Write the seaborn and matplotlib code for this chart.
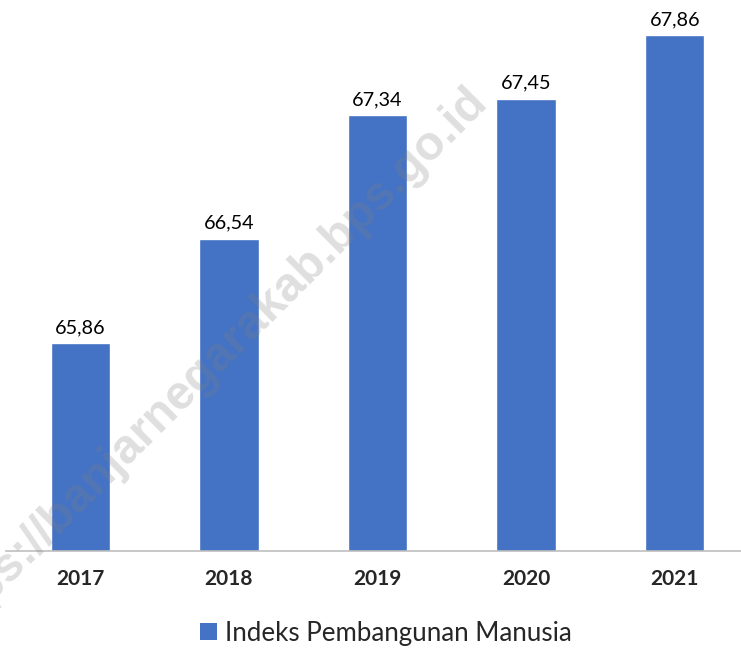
import matplotlib
matplotlib.use("Agg")
import matplotlib.pyplot as plt
from matplotlib.patches import Patch
import pandas as pd
import seaborn as sns

years = ["2017", "2018", "2019", "2020", "2021"]
ipm = [65.86, 66.54, 67.34, 67.45, 67.86]
value_labels = ["65,86", "66,54", "67,34", "67,45", "67,86"]
series_name = "Indeks Pembangunan Manusia"

df = pd.DataFrame({"tahun": years, "ipm": ipm})

sns.set_theme(style="white")
plt.rcParams["font.family"] = ["Lato", "DejaVu Sans"]

fig = plt.figure(figsize=(7.41, 6.49), dpi=100)
ax = fig.add_axes([6 / 741, 98 / 649, 735 / 741, 551 / 649])

sns.barplot(data=df, x="tahun", y="ipm", color="#4472C4", width=0.4,
            saturation=1, ax=ax)

ax.set_xlim(-0.5, 4.446)
ax.set_ylim(64.51, 68.09)

for i, (v, lab) in enumerate(zip(ipm, value_labels)):
    ax.annotate(lab, (i, v), xytext=(0, 5), textcoords="offset points",
                ha="center", va="bottom", fontsize=14.3, color="#000000")

ax.set_xlabel("")
ax.set_ylabel("")
ax.set_yticks([])
ax.tick_params(axis="x", length=0, pad=13, labelsize=15)
for t in ax.get_xticklabels():
    t.set_fontweight("bold")

for s in ["top", "right", "left"]:
    ax.spines[s].set_visible(False)
ax.spines["bottom"].set_color("#BFBFBF")
ax.spines["bottom"].set_linewidth(1.2)

handles = [Patch(facecolor="#4472C4", edgecolor="none", label=series_name)]
fig.legend(handles=handles, loc="center", bbox_to_anchor=(386 / 741, 1 - 633 / 649),
           frameon=False, fontsize=18.6, handlelength=0.65, handleheight=0.65,
           handletextpad=0.3)

# watermark
fig.text(208 / 741, 1 - 366 / 649, "https://banjarnegarakab.bps.go.id",
         rotation=45, ha="center", va="center", fontsize=34.5,
         fontweight="bold", color="#808080", alpha=0.25,
         family=["Liberation Sans", "DejaVu Sans"])

fig.savefig("out.png", dpi=100)
